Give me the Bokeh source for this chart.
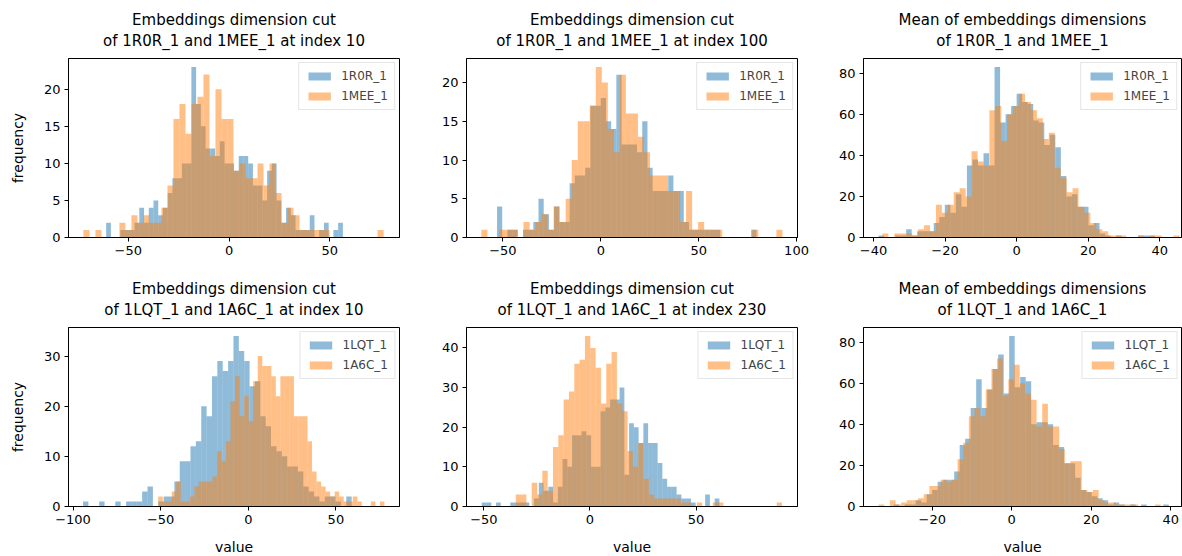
import numpy as np
from bokeh.plotting import figure
from bokeh.layouts import column, row
from bokeh.models import FixedTicker, CustomJSTickFormatter, Range1d, LinearAxis
from bokeh.embed import file_html
from bokeh.resources import INLINE

# ---------------- data (counts per bin) ----------------
# Panel 1: cut at index 10, 1R0R_1 vs 1MEE_1
p1_blue_range = [-61.0, 56.5]
p1_blue = [2,0,0,1,1,1,2,4,2,4, 5,3,4,6,8,8,10,10,23,18, 15,12,12,11,13,10,10,9,11,11,
           10,7,7,5,9,10,5,2,4,3, 1,1,1,3,0,1,2,0,1,2]
p1_orange_range = [-72.3, 76.7]
p1_orange = [1,0,1,0,0,0,2,1,3,2, 3,2,2,4,7,16,18,14,18,19, 22,11,20,16,16,9,10,8,8,10,
             7,10,6,2,4,3,1,1,1,1, 1,0,0,0,0,0,0,0,0,1]

# Panel 2: cut at index 100, 1R0R_1 vs 1MEE_1
p2_blue_range = [-53.0, 79.5]
p2_blue = [4,0,1,1,0,1,1,2,5,3, 1,4,2,2,7,8,8,9,17,17, 18,15,14,21,12,12,12,11,15,9,
           6,6,6,8,6,6,2,1,1,1, 1,1,1,0,0,0,0,0,0,1]
p2_orange_range = [-61.0, 92.8]
p2_orange = [1,0,0,1,1,1,0,2,1,2, 3,1,4,2,5,10,15,15,17,22, 20,14,11,21,16,16,13,11,8,8,
             8,6,6,2,6,1,2,1,1,1, 0,0,0,0,0,1,0,0,0,1]

# Panel 3: mean of dimensions, 1R0R_1 vs 1MEE_1
p3_blue_range = [-38.6, 38.6]
p3_blue = [1,0,0,1,1,4,1,3,3,3, 7,10,16,12,21,15,35,38,35,41, 35,83,56,60,64,70,66,65,57,56,
           45,50,44,30,20,21,15,15,6,7, 2,1,0,1,0,0,0,1,1,1]
p3_orange_range = [-37.5, 45.5]
p3_orange = [2,0,2,2,2,1,4,6,3,16, 12,16,22,24,20,42,37,35,62,64, 47,60,64,70,66,62,58,48,51,34,
             29,22,24,15,12,7,4,3,1,1, 1,0,0,1,0,1,1,0,0,1]

# Panel 4: cut at index 10, 1LQT_1 vs 1A6C_1
p4_blue_range = [-94.3, 59.0]
p4_blue = [1,0,0,1,0,0,1,0,1,1, 1,3,4,0,1,2,2,5,9,9, 12,13,20,18,26,29,27,29,34,31,
           29,24,25,18,16,12,11,10,8,8, 7,4,3,2,1,2,2,1,0,2]
p4_orange_range = [-51.4, 77.7]
p4_orange = [2,1,1,3,5,1,1,2,4,5, 5,5,6,11,9,13,21,26,18,22, 17,25,30,28,28,26,22,26,26,26,
             18,18,18,13,7,5,4,3,2,3, 2,1,1,2,1,0,0,1,0,1]

# Panel 5: cut at index 230, 1LQT_1 vs 1A6C_1
p5_blue_range = [-51.0, 61.0]
p5_blue = [1,1,0,1,0,0,1,1,1,1, 0,2,6,4,5,1,5,12,10,18, 18,19,18,10,10,24,25,27,27,30,
           8,21,20,16,21,16,16,11,7,5, 5,3,2,2,1,0,0,3,0,2]
p5_orange_range = [-35.0, 90.5]
p5_orange = [3,3,0,6,3,9,4,15,18,27, 29,36,37,43,40,35,26,36,39,26, 24,14,10,16,7,3,2,2,2,2,
             2,1,1,0,1,0,0,1,1,0, 0,0,0,0,0,0,0,0,0,1]

# Panel 6: mean of dimensions, 1LQT_1 vs 1A6C_1
p6_blue_range = [-29.7, 39.5]
p6_blue = [1,0,1,1,3,2,6,8,12,13, 13,17,30,33,48,62,48,57,67,74, 55,83,58,63,61,40,41,41,40,30,
           29,21,21,14,8,7,5,4,3,1, 2,1,0,1,0,1,0,0,0,1]
p6_orange_range = [-33.5, 37.5]
p6_orange = [1,0,3,1,2,3,3,4,6,10, 10,13,12,13,23,31,44,48,44,57, 67,72,54,62,69,60,55,52,39,50,
             39,39,28,21,22,22,8,7,8,3, 2,2,1,1,1,1,0,0,0,1]

titles = [
    ("Embeddings dimension cut", "of 1R0R_1 and 1MEE_1 at index 10"),
    ("Embeddings dimension cut", "of 1R0R_1 and 1MEE_1 at index 100"),
    ("Mean of embeddings dimensions", "of 1R0R_1 and 1MEE_1"),
    ("Embeddings dimension cut", "of 1LQT_1 and 1A6C_1 at index 10"),
    ("Embeddings dimension cut", "of 1LQT_1 and 1A6C_1 at index 230"),
    ("Mean of embeddings dimensions", "of 1LQT_1 and 1A6C_1"),
]
series_names = [("1R0R_1", "1MEE_1")] * 3 + [("1LQT_1", "1A6C_1")] * 3
x_limits = [[-79.7, 84.6], [-68.6, 100.5], [-42.8, 49.7],
            [-102.6, 86.3], [-58.2, 97.8], [-37.3, 46.0]]
x_ticks = [[-50, 0, 50], [-50, 0, 50, 100], [-40, -20, 0, 20, 40],
           [-100, -50, 0, 50], [-50, 0, 50], [-20, 0, 20, 40]]
y_ticks = [[0, 5, 10, 15, 20], [0, 5, 10, 15, 20], [0, 20, 40, 60, 80],
           [0, 10, 20, 30], [0, 10, 20, 30, 40], [0, 20, 40, 60, 80]]
blues = [(p1_blue_range, p1_blue), (p2_blue_range, p2_blue), (p3_blue_range, p3_blue),
         (p4_blue_range, p4_blue), (p5_blue_range, p5_blue), (p6_blue_range, p6_blue)]
oranges = [(p1_orange_range, p1_orange), (p2_orange_range, p2_orange), (p3_orange_range, p3_orange),
           (p4_orange_range, p4_orange), (p5_orange_range, p5_orange), (p6_orange_range, p6_orange)]

BLUE = "#1f77b4"
ORANGE = "#ff7f0e"
FONT = "DejaVu Sans"
FULL_W = 331
FRAME_W = [331, 331, 318]
BORDER_L = [68, 33, 33]
BORDER_R = [34, 33, 1]
FRAME_H = 179
BORDER_T = 58
BORDER_B = [32, 50]

minus_fmt = CustomJSTickFormatter(code="return tick < 0 ? '\\u2212' + Math.abs(tick) : tick.toString();")


def title_axis(text, standoff):
    # an empty axis above the frame whose label carries one centred title line
    ax = LinearAxis(ticker=FixedTicker(ticks=[]), axis_label=text,
                    axis_line_color=None, major_tick_line_color=None,
                    minor_tick_line_color=None, major_tick_out=0, major_tick_in=0,
                    minor_tick_out=0, minor_tick_in=0,
                    major_label_text_font_size="0px", major_label_standoff=0,
                    axis_label_standoff=standoff, axis_label_text_font=FONT,
                    axis_label_text_font_size="15px", axis_label_text_font_style="normal",
                    axis_label_text_color="black")
    return ax


def make_panel(k):
    r, c = divmod(k, 3)
    lo, hi = x_limits[k]
    hi = lo + (hi - lo) * FRAME_W[c] / FULL_W
    ymax = max(max(blues[k][1]), max(oranges[k][1])) * 1.05
    p = figure(frame_width=FRAME_W[c], frame_height=FRAME_H,
               min_border_left=BORDER_L[c], min_border_right=BORDER_R[c],
               min_border_top=BORDER_T, min_border_bottom=BORDER_B[r],
               x_range=Range1d(lo, hi), y_range=Range1d(0, ymax),
               output_backend="svg", toolbar_location=None)
    p.title.visible = False
    # second line nearest the frame, first line above it
    p.add_layout(title_axis(titles[k][1], 9), "above")
    p.add_layout(title_axis(titles[k][0], 0), "above")
    for (rng, counts), color, name in ((blues[k], BLUE, series_names[k][0]),
                                       (oranges[k], ORANGE, series_names[k][1])):
        edges = np.linspace(rng[0], rng[1], len(counts) + 1)
        p.quad(left=edges[:-1], right=edges[1:], bottom=0, top=counts,
               fill_color=color, fill_alpha=0.5, line_color=None, legend_label=name)
    p.xgrid.visible = False
    p.ygrid.visible = False
    p.outline_line_color = "black"
    p.outline_line_alpha = 1
    for ax in (p.below[0], p.left[0]):
        ax.axis_line_color = "black"
        ax.major_tick_line_color = "black"
        ax.major_tick_out = 4
        ax.major_tick_in = 0
        ax.minor_tick_line_color = None
        ax.major_label_text_font = FONT
        ax.major_label_text_font_size = "13px"
        ax.major_label_text_color = "black"
        ax.major_label_standoff = 4
        ax.axis_label_text_font = FONT
        ax.axis_label_text_font_size = "14px"
        ax.axis_label_text_font_style = "normal"
        ax.axis_label_text_color = "black"
        ax.formatter = minus_fmt
    p.below[0].ticker = FixedTicker(ticks=x_ticks[k])
    p.left[0].ticker = FixedTicker(ticks=y_ticks[k])
    if c == 0:
        p.left[0].axis_label = "frequency"
        p.left[0].axis_label_standoff = 15
    if r == 1:
        p.below[0].axis_label = "value"
        p.below[0].axis_label_standoff = 12
    lg = p.legend[0]
    lg.location = "top_right"
    lg.label_text_font = FONT
    lg.label_text_font_size = "12px"
    lg.glyph_width = 28
    lg.glyph_height = 10
    lg.label_standoff = 8
    lg.spacing = 6
    lg.padding = 6
    lg.margin = 4
    lg.border_line_color = "#cccccc"
    lg.background_fill_alpha = 0.8
    p.background_fill_color = "white"
    p.border_fill_color = "white"
    return p


figs = [make_panel(k) for k in range(6)]
layout = column(row(*figs[:3]), row(*figs[3:]))
open("out.html", "w").write(file_html(layout, INLINE))
